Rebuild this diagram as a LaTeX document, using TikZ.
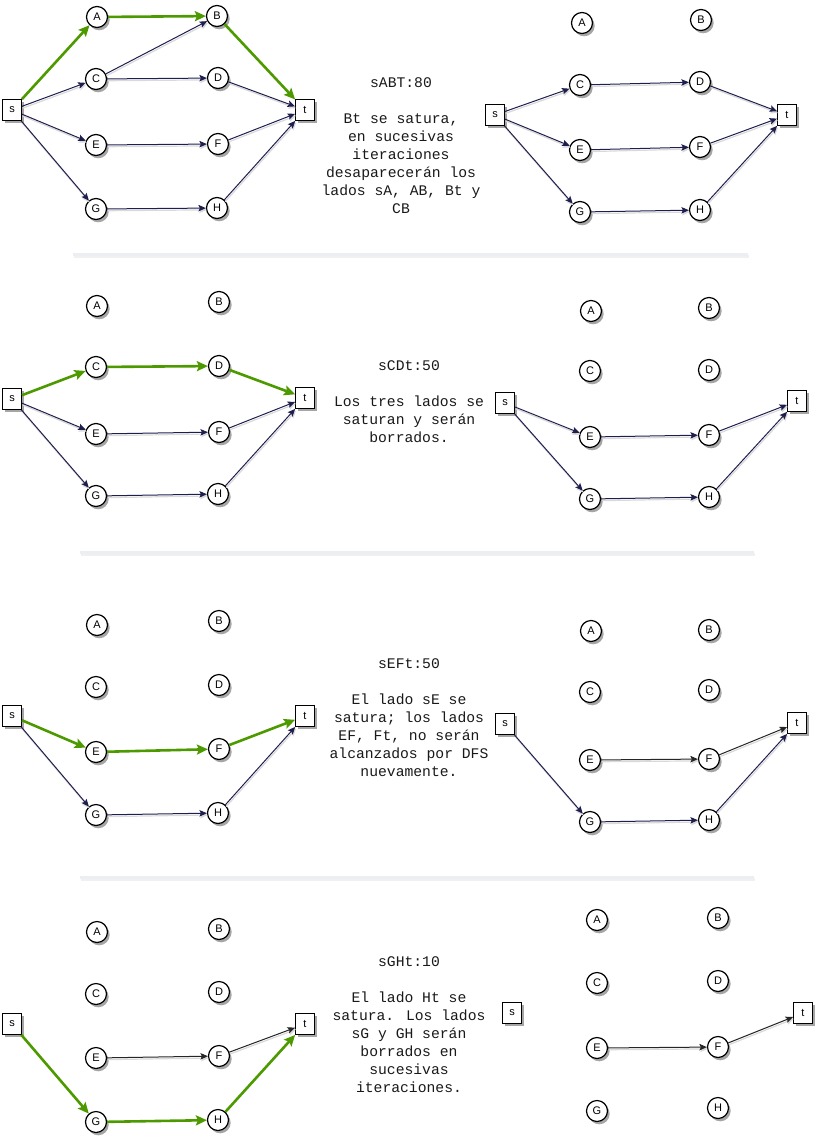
\documentclass[tikz,border=0pt]{standalone}
\usepackage{fontspec}
\setmainfont{Liberation Sans}
\newfontfamily\codefont{Liberation Mono}
\usetikzlibrary{arrows.meta,shadows}
\definecolor{edgeblue}{HTML}{1F1F4F}
\definecolor{flowgreen}{HTML}{4D9900}
\definecolor{seprule}{HTML}{ECEEF1}
\begin{document}
\begin{tikzpicture}[x=1pt,y=-1pt]
		\tikzset{vertex/.style = {circle, draw, line width=1.2pt, fill=white, minimum size=21pt, inner sep=0pt, font=\fontsize{11}{11}\selectfont,
				general shadow={fill=black!35, shadow xshift=2.2pt, shadow yshift=-2.8pt}}}
		\tikzset{term/.style = {rectangle, draw, line width=0.8pt, fill=white, minimum width=19pt, minimum height=21pt, inner sep=0pt, font=\fontsize{11}{11}\selectfont,
				general shadow={fill=black!35, shadow xshift=2.2pt, shadow yshift=-2.8pt}}}
		\tikzset{edge/.style = {-{Stealth[length=7.5pt, width=6.5pt, inset=1.5pt]}, draw=edgeblue, line width=1pt,
				preaction={draw=black!15, line width=1.2pt, transform canvas={shift={(0.8pt,-1.8pt)}}}}}
		\tikzset{flow/.style = {-{Stealth[length=11pt, width=10pt, inset=2pt]}, draw=flowgreen, line width=2.6pt}}
		\tikzset{plain/.style = {edge, draw=black!85}}
		\tikzset{note/.style = {align=center, text=black!90, font=\codefont\fontsize{14.7}{18}\selectfont}}
		\tikzset{sep/.style = {draw=seprule, line width=3pt, preaction={draw=black!6, line width=3pt, transform canvas={shift={(1pt,-2pt)}}}}}
		
		\useasboundingbox (0,0) rectangle (824,1144);
		
		% separators
		\draw[sep] ( 73, 254) -- (748, 254);
		\draw[sep] ( 80, 552) -- (754, 552);
		\draw[sep] ( 80, 877) -- (754, 877);
		
		% row 1, left
		\node[term]    (s1) at (  12,  110) {s};
		\node[vertex]  (A1) at (  97,   17) {A};
		\node[vertex]  (B1) at ( 217,   16) {B};
		\node[vertex]  (C1) at (  96,   79) {C};
		\node[vertex]  (D1) at ( 218,   78) {D};
		\node[vertex]  (E1) at (  96,  145) {E};
		\node[vertex]  (F1) at ( 218,  144) {F};
		\node[vertex]  (G1) at (  96,  209) {G};
		\node[vertex]  (H1) at ( 217,  208) {H};
		\node[term]    (t1) at ( 305,  110) {t};
		
		\draw[flow] (s1) to (A1);
		\draw[flow] (A1) to (B1);
		\draw[flow] (B1) to (t1);
		\draw[edge] (s1) to (C1);
		\draw[edge] (s1) to (E1);
		\draw[edge] (s1) to (G1);
		\draw[edge] (C1) to (B1);
		\draw[edge] (C1) to (D1);
		\draw[edge] (D1) to (t1);
		\draw[edge] (E1) to (F1);
		\draw[edge] (F1) to (t1);
		\draw[edge] (G1) to (H1);
		\draw[edge] (H1) to (t1);
		
		\node[note] (note1) at (401, 146) {sABT:80\\[18pt]Bt se satura,\\en sucesivas\\iteraciones\\desaparecerán los\\lados sA, AB, Bt y\\CB};
		
		% row 1, right
		\node[term]    (s2) at ( 495,  115) {s};
		\node[vertex]  (A2) at ( 582,   23) {A};
		\node[vertex]  (B2) at ( 701,   20) {B};
		\node[vertex]  (C2) at ( 580,   85) {C};
		\node[vertex]  (D2) at ( 700,   82) {D};
		\node[vertex]  (E2) at ( 580,  150) {E};
		\node[vertex]  (F2) at ( 700,  147) {F};
		\node[vertex]  (G2) at ( 580,  212) {G};
		\node[vertex]  (H2) at ( 700,  210) {H};
		\node[term]    (t2) at ( 787,  115) {t};
		
		\draw[edge] (s2) to (C2);
		\draw[edge] (s2) to (E2);
		\draw[edge] (s2) to (G2);
		\draw[edge] (C2) to (D2);
		\draw[edge] (D2) to (t2);
		\draw[edge] (E2) to (F2);
		\draw[edge] (F2) to (t2);
		\draw[edge] (G2) to (H2);
		\draw[edge] (H2) to (t2);
		
		% row 2, left
		\node[term]    (s3) at (  12,  399) {s};
		\node[vertex]  (A3) at (  97,  306) {A};
		\node[vertex]  (B3) at ( 219,  302) {B};
		\node[vertex]  (C3) at (  96,  367) {C};
		\node[vertex]  (D3) at ( 219,  366) {D};
		\node[vertex]  (E3) at (  96,  434) {E};
		\node[vertex]  (F3) at ( 219,  432) {F};
		\node[vertex]  (G3) at (  96,  496) {G};
		\node[vertex]  (H3) at ( 218,  494) {H};
		\node[term]    (t3) at ( 305,  398) {t};
		
		\draw[flow] (s3) to (C3);
		\draw[flow] (C3) to (D3);
		\draw[flow] (D3) to (t3);
		\draw[edge] (s3) to (E3);
		\draw[edge] (s3) to (G3);
		\draw[edge] (E3) to (F3);
		\draw[edge] (F3) to (t3);
		\draw[edge] (G3) to (H3);
		\draw[edge] (H3) to (t3);
		
		\node[note] (note2) at (409, 402) {sCDt:50\\[18pt]Los tres lados se\\saturan y serán\\borrados.};
		
		% row 2, right
		\node[term]    (s4) at ( 505,  403) {s};
		\node[vertex]  (A4) at ( 591,  311) {A};
		\node[vertex]  (B4) at ( 709,  308) {B};
		\node[vertex]  (C4) at ( 590,  371) {C};
		\node[vertex]  (D4) at ( 709,  370) {D};
		\node[vertex]  (E4) at ( 590,  437) {E};
		\node[vertex]  (F4) at ( 709,  435) {F};
		\node[vertex]  (G4) at ( 590,  499) {G};
		\node[vertex]  (H4) at ( 709,  497) {H};
		\node[term]    (t4) at ( 797,  401) {t};
		
		\draw[edge] (s4) to (E4);
		\draw[edge] (s4) to (G4);
		\draw[edge] (E4) to (F4);
		\draw[edge] (F4) to (t4);
		\draw[edge] (G4) to (H4);
		\draw[edge] (H4) to (t4);
		
		% row 3, left
		\node[term]    (s5) at (  12,  716) {s};
		\node[vertex]  (A5) at (  97,  625) {A};
		\node[vertex]  (B5) at ( 219,  621) {B};
		\node[vertex]  (C5) at (  96,  687) {C};
		\node[vertex]  (D5) at ( 219,  685) {D};
		\node[vertex]  (E5) at (  96,  752) {E};
		\node[vertex]  (F5) at ( 219,  749) {F};
		\node[vertex]  (G5) at (  96,  815) {G};
		\node[vertex]  (H5) at ( 218,  813) {H};
		\node[term]    (t5) at ( 305,  716) {t};
		
		\draw[flow] (s5) to (E5);
		\draw[flow] (E5) to (F5);
		\draw[flow] (F5) to (t5);
		\draw[edge] (s5) to (G5);
		\draw[edge] (G5) to (H5);
		\draw[edge] (H5) to (t5);
		
		\node[note] (note3) at (409, 718) {sEFt:50\\[18pt]El lado sE se\\satura; los lados\\EF, Ft, no serán\\alcanzados por DFS\\nuevamente.};
		
		% row 3, right
		\node[term]    (s6) at ( 505,  724) {s};
		\node[vertex]  (A6) at ( 591,  631) {A};
		\node[vertex]  (B6) at ( 709,  630) {B};
		\node[vertex]  (C6) at ( 590,  692) {C};
		\node[vertex]  (D6) at ( 709,  690) {D};
		\node[vertex]  (E6) at ( 590,  760) {E};
		\node[vertex]  (F6) at ( 709,  759) {F};
		\node[vertex]  (G6) at ( 590,  822) {G};
		\node[vertex]  (H6) at ( 709,  820) {H};
		\node[term]    (t6) at ( 797,  723) {t};
		
		\draw[edge]  (s6) to (G6);
		\draw[edge]  (G6) to (H6);
		\draw[edge]  (H6) to (t6);
		\draw[plain] (E6) to (F6);
		\draw[plain] (F6) to (t6);
		
		% row 4, left
		\node[term]    (s7) at (  12, 1024) {s};
		\node[vertex]  (A7) at (  97,  932) {A};
		\node[vertex]  (B7) at ( 219,  929) {B};
		\node[vertex]  (C7) at (  96,  994) {C};
		\node[vertex]  (D7) at ( 219,  992) {D};
		\node[vertex]  (E7) at (  96, 1058) {E};
		\node[vertex]  (F7) at ( 219, 1056) {F};
		\node[vertex]  (G7) at (  96, 1122) {G};
		\node[vertex]  (H7) at ( 218, 1120) {H};
		\node[term]    (t7) at ( 305, 1024) {t};
		
		\draw[flow]  (s7) to (G7);
		\draw[flow]  (G7) to (H7);
		\draw[flow]  (H7) to (t7);
		\draw[plain] (E7) to (F7);
		\draw[plain] (F7) to (t7);
		
		\node[note] (note4) at (409, 1025) {sGHt:10\\[18pt]El lado Ht se\\satura. Los lados\\sG y GH serán\\borrados en\\sucesivas\\iteraciones.};
		
		% row 4, right
		\node[term]    (s8) at ( 512, 1013) {s};
		\node[vertex]  (A8) at ( 597,  920) {A};
		\node[vertex]  (B8) at ( 718,  918) {B};
		\node[vertex]  (C8) at ( 597,  983) {C};
		\node[vertex]  (D8) at ( 718,  981) {D};
		\node[vertex]  (E8) at ( 597, 1048) {E};
		\node[vertex]  (F8) at ( 718, 1047) {F};
		\node[vertex]  (G8) at ( 597, 1111) {G};
		\node[vertex]  (H8) at ( 718, 1108) {H};
		\node[term]    (t8) at ( 803, 1013) {t};
		
		\draw[plain] (E8) to (F8);
		\draw[plain] (F8) to (t8);
\end{tikzpicture}
\end{document}
